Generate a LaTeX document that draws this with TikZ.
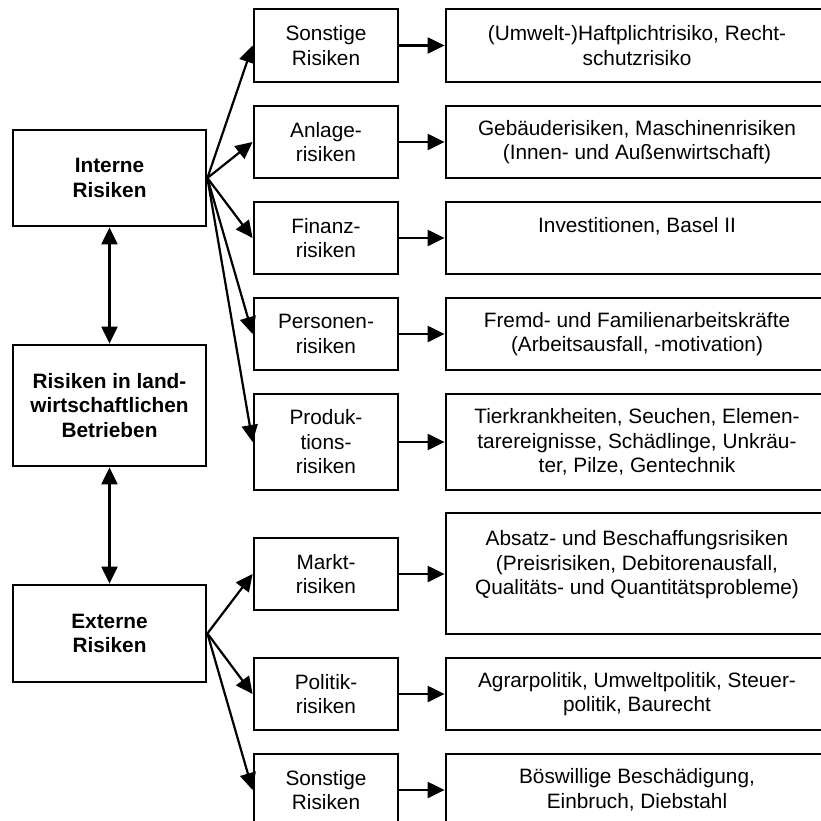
\documentclass[tikz,border=0pt]{standalone}
\usepackage{fontspec}
\setmainfont{Liberation Sans}
\usetikzlibrary{arrows.meta}

\begin{document}
\begin{tikzpicture}[x=1pt, y=-1pt, line width=2.2pt,
    every node/.style={draw, line width=2.8pt, align=center, inner sep=0pt,
      font=\fontsize{20.8}{24.5}\selectfont},
    links/.style={minimum width=193pt, font=\fontsize{20.8}{24.5}\selectfont\bfseries},
    mitte/.style={minimum width=144pt, minimum height=72pt},
    rechts/.style={minimum width=382pt, minimum height=72pt},
    pfeil/.style={-{Triangle[length=17pt, width=16pt]}},
    doppelpfeil/.style={{Triangle[length=17pt, width=16pt]}-{Triangle[length=17pt, width=16pt]}}]
    \clip (0, 0) rectangle (821, 821);

    % draw left column
    \node[links, minimum height=96pt] (interne) at (109.5, 178) {Interne\\Risiken};
    \node[links, minimum height=121pt] (betrieb) at (109.5, 405.5) {Risiken in land-\\wirtschaftlichen\\Betrieben};
    \node[links, minimum height=97pt] (externe) at (109.5, 633.5) {Externe\\Risiken};

    % draw middle column
    \node[mitte, minimum height=73pt] (sonst1) at (326, 45.5) {Sonstige\\Risiken};
    \node[mitte] (anlage) at (326, 142) {Anlage-\\risiken};
    \node[mitte] (finanz) at (326, 238) {Finanz-\\risiken};
    \node[mitte] (person) at (326, 334) {Personen-\\risiken};
    \node[mitte, minimum height=96pt] (prod) at (326, 442) {Produk-\\tions-\\risiken};
    \node[mitte] (markt) at (326, 574) {Markt-\\risiken};
    \node[mitte] (politik) at (326, 694) {Politik-\\risiken};
    \node[mitte] (sonst2) at (326, 790) {Sonstige\\Risiken};

    % draw right column
    \node[rechts, minimum height=73pt] (haft) at (637, 45.5) {(Umwelt-)Haftplichtrisiko, Recht-\\schutzrisiko};
    \node[rechts] (gebaeude) at (637, 142) {Gebäuderisiken, Maschinenrisiken\\(Innen- und Außenwirtschaft)};
    \node[rechts, text depth=26pt] (invest) at (637, 238) {Investitionen, Basel II};
    \node[rechts] (fremd) at (637, 334) {Fremd- und Familienarbeitskräfte\\(Arbeitsausfall, -motivation)};
    \node[rechts, minimum height=96pt] (tier) at (637, 442) {Tierkrankheiten, Seuchen, Elemen-\\tarereignisse, Schädlinge, Unkräu-\\ter, Pilze, Gentechnik};
    \node[rechts, minimum height=121pt, text depth=22pt] (absatz) at (637, 573.5) {Absatz- und Beschaffungsrisiken\\(Preisrisiken, Debitorenausfall,\\Qualitäts- und Quantitätsprobleme)};
    \node[rechts] (agrar) at (637, 694) {Agrarpolitik, Umweltpolitik, Steuer-\\politik, Baurecht};
    \node[rechts] (boes) at (637, 790) {Böswillige Beschädigung,\\Einbruch, Diebstahl};

    % draw arrows
    \draw[doppelpfeil] (interne) -- (betrieb);
    \draw[doppelpfeil] (betrieb) -- (externe);
    \foreach \n in {sonst1, anlage, finanz, person, prod}
      \draw[pfeil] (interne.east) -- (\n.west);
    \foreach \n in {markt, politik, sonst2}
      \draw[pfeil] (externe.east) -- (\n.west);
    \foreach \a/\b in {sonst1/haft, anlage/gebaeude, finanz/invest, person/fremd,
                       prod/tier, markt/absatz, politik/agrar, sonst2/boes}
      \draw[pfeil] (\a.east) -- (\a.east -| \b.west);

\end{tikzpicture}
\end{document}
